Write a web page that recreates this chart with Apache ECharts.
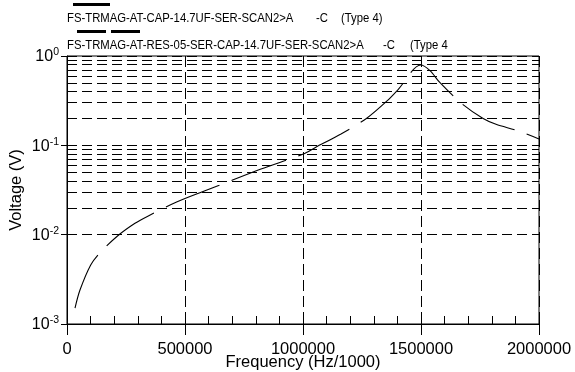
<!DOCTYPE html>
<html>
<head>
<meta charset="utf-8">
<title>Voltage vs Frequency</title>
<script src="https://cdn.jsdelivr.net/npm/echarts@6/dist/echarts.min.js"></script>
<style>
  html, body { margin: 0; padding: 0; background: #fff; }
  #main { width: 575px; height: 372px; }
</style>
</head>
<body>
<div id="main"></div>
<script>
// trace names as printed above the plot
var traceNames = ['FS-TRMAG-AT-CAP-14.7UF-SER-SCAN2>A', 'FS-TRMAG-AT-RES-05-SER-CAP-14.7UF-SER-SCAN2>A'];
var traceSuffix = ['-C', '-C'];
var traceType = ['(Type 4)', '(Type 4'];

// frequency (Hz/1000) and voltage (V)
var freq = [33900, 55000, 100400, 139800, 214000, 288100, 344500, 464400, 584700, 645300, 822000, 1001300,
            1050800, 1161000, 1270000, 1357200, 1403800, 1498700, 1538100, 1580500, 1669500, 1761400,
            1817800, 1909000, 2000000];
var volt = [0.00151, 0.0024, 0.00458, 0.00628, 0.00966, 0.0134, 0.0162, 0.0232, 0.0310, 0.0357, 0.0543, 0.080,
            0.0942, 0.134, 0.201, 0.316, 0.424, 0.792, 0.685, 0.502, 0.298, 0.201,
            0.172, 0.146, 0.118];
var capVolt = []; // solid trace: nothing visible in the picture

var xTicks = [0, 500000, 1000000, 1500000, 2000000];
var xMinorStep = 100000;
var yMinorGrid = [0.002, 0.003, 0.004, 0.005, 0.006, 0.007, 0.008, 0.009,
                  0.02, 0.03, 0.04, 0.05, 0.06, 0.07, 0.08, 0.09,
                  0.2, 0.3, 0.4, 0.5, 0.6, 0.7, 0.8, 0.9];

var FONT = "'Liberation Sans', Arial, sans-serif";

var resData = freq.map(function (f, i) { return [f, volt[i]]; });

var chart = echarts.init(document.getElementById('main'), null, { renderer: 'canvas' });

var xBase = {
  type: 'value',
  min: xTicks[0],
  max: xTicks[xTicks.length - 1],
  interval: xTicks[1] - xTicks[0],
  position: 'bottom',
  offset: 0,
  axisLine: { show: true, onZero: false, lineStyle: { color: '#000', width: 1 } }
};

// legend text, squeezed horizontally like the original print
function legendText(str, x, y) {
  return {
    type: 'text', x: x, y: y, scaleX: 0.87,
    style: { text: str, font: '13px ' + FONT, fill: '#000', verticalAlign: 'middle', align: 'left' }
  };
}

var option = {
  animation: false,
  backgroundColor: '#fff',
  grid: {
    left: 67, right: 36, top: 56, bottom: 48,
    outerBoundsMode: 'none',
    containLabel: false,
    show: true, borderColor: '#000', borderWidth: 1, backgroundColor: 'transparent'
  },
  xAxis: [
    Object.assign({}, xBase, {
      axisTick: { show: true, inside: true, length: 8, lineStyle: { color: '#000' } },
      splitLine: { show: true, lineStyle: { color: '#000', type: [11, 5], width: 1 } },
      axisLabel: {
        margin: 17, color: '#000', fontFamily: FONT, fontSize: 16.5,
        formatter: function (v) { return String(v); }
      },
      name: 'Frequency (Hz/1000)',
      nameLocation: 'middle',
      nameGap: 30,
      nameMoveOverlap: false,
      nameTextStyle: { color: '#000', fontFamily: FONT, fontSize: 16.5 }
    }),
    // major ticks poking out below the axis
    Object.assign({}, xBase, {
      axisTick: { show: true, inside: false, length: 11, lineStyle: { color: '#000' } },
      splitLine: { show: false },
      axisLabel: { show: false }
    }),
    // minor ticks every 100000, inside
    Object.assign({}, xBase, {
      interval: xMinorStep,
      axisTick: { show: true, inside: true, length: 8, lineStyle: { color: '#000', width: 1 } },
      splitLine: { show: false },
      axisLabel: { show: false }
    })
  ],
  yAxis: {
    type: 'log',
    logBase: 10,
    min: 0.001,
    max: 1,
    axisLine: { show: true, lineStyle: { color: '#000', width: 1 } },
    axisTick: { show: true, inside: false, length: 6, lineStyle: { color: '#000' } },
    splitLine: { show: true, lineStyle: { color: '#000', type: [10, 5], width: 1 } },
    axisLabel: {
      margin: 8,
      formatter: function (v) {
        var e = Math.round(Math.log10(v));
        return '{b|10}{s|' + e + '}';
      },
      rich: {
        b: { fontFamily: FONT, fontSize: 16, color: '#000', verticalAlign: 'bottom' },
        s: { fontFamily: FONT, fontSize: 10.5, color: '#000', verticalAlign: 'top', padding: [0, 0, 7, 0] }
      }
    },
    name: 'Voltage (V)',
    nameLocation: 'middle',
    nameGap: 42,
    nameRotate: 90,
    nameMoveOverlap: false,
    nameTextStyle: { color: '#000', fontFamily: FONT, fontSize: 16.5 }
  },
  series: [
    {
      name: traceNames[0],
      type: 'line',
      data: capVolt,
      showSymbol: false,
      lineStyle: { color: '#000', width: 1, type: 'solid' }
    },
    {
      name: traceNames[1],
      type: 'line',
      data: resData,
      smooth: 0.3,
      showSymbol: false,
      lineStyle: { color: '#000', width: 1.1, type: [58, 13] },
      markLine: {
        silent: true,
        symbol: 'none',
        label: { show: false },
        lineStyle: { color: '#000', width: 1, type: [10, 5] },
        data: yMinorGrid.map(function (v) { return { yAxis: v }; })
      }
    }
  ],
  graphic: [
    { type: 'line', shape: { x1: 73, y1: 4.5, x2: 110, y2: 4.5 }, style: { stroke: '#000', lineWidth: 3 } },
    legendText(traceNames[0], 67, 18),
    legendText(traceSuffix[0], 316, 18),
    legendText(traceType[0], 341, 18),
    { type: 'line', shape: { x1: 77, y1: 31.5, x2: 140, y2: 31.5 }, style: { stroke: '#000', lineWidth: 3, lineDash: [29, 5] } },
    legendText(traceNames[1], 67, 45),
    legendText(traceSuffix[1], 383, 45),
    legendText(traceType[1], 410, 45)
  ]
};

chart.setOption(option);
</script>
</body>
</html>
